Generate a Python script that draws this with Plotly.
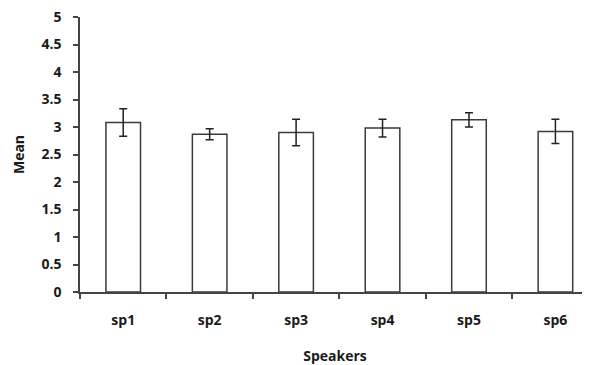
import plotly.graph_objects as go

categories = ["sp1", "sp2", "sp3", "sp4", "sp5", "sp6"]
means = [3.08, 2.87, 2.90, 2.98, 3.13, 2.92]
errors = [0.25, 0.10, 0.24, 0.16, 0.13, 0.22]
y_ticks = [0, 0.5, 1, 1.5, 2, 2.5, 3, 3.5, 4, 4.5, 5]
y_tick_labels = ["0", "0.5", "1", "1.5", "2", "2.5", "3", "3.5", "4", "4.5", "5"]

font_family = "Open Sans, Liberation Sans, sans-serif"
txt = "#1a1a1a"

fig = go.Figure(
    go.Bar(
        x=categories,
        y=means,
        width=0.40,
        marker=dict(color="white", line=dict(color="#3a3a3a", width=1.5)),
        error_y=dict(type="data", array=errors, color="#222222", thickness=1.5, width=4),
    )
)

# the page body has a default 8px margin, so the figure is sized to fit the window
fig.update_layout(
    width=582,
    height=357,
    margin=dict(l=72, r=0, t=9, b=73),
    paper_bgcolor="white",
    plot_bgcolor="white",
    showlegend=False,
    font=dict(family=font_family, size=14, color=txt),
)

fig.update_xaxes(
    range=[-0.5, 5.4],
    showline=True,
    linecolor="#444444",
    linewidth=1.5,
    ticks="outside",
    tickson="boundaries",
    ticklen=5,
    tickcolor="#444444",
    tickwidth=1.5,
    showgrid=False,
    ticklabelstandoff=14,
    tickfont=dict(family=font_family, size=14, color=txt, weight="bold"),
    title=dict(text="<b>Speakers</b>", font=dict(family=font_family, size=14, color=txt), standoff=24),
)

fig.update_yaxes(
    range=[0, 5],
    tickvals=y_ticks,
    ticktext=y_tick_labels,
    showline=True,
    linecolor="#444444",
    linewidth=1.5,
    ticks="outside",
    ticklen=5,
    tickcolor="#444444",
    tickwidth=1.5,
    showgrid=False,
    zeroline=False,
    ticklabelstandoff=9,
    ticklabeloverflow="allow",
    tickfont=dict(family=font_family, size=14, color=txt, weight="bold"),
    title=dict(text="<b>Mean</b>", font=dict(family=font_family, size=14, color=txt), standoff=14),
)

fig.write_html("out.html")
